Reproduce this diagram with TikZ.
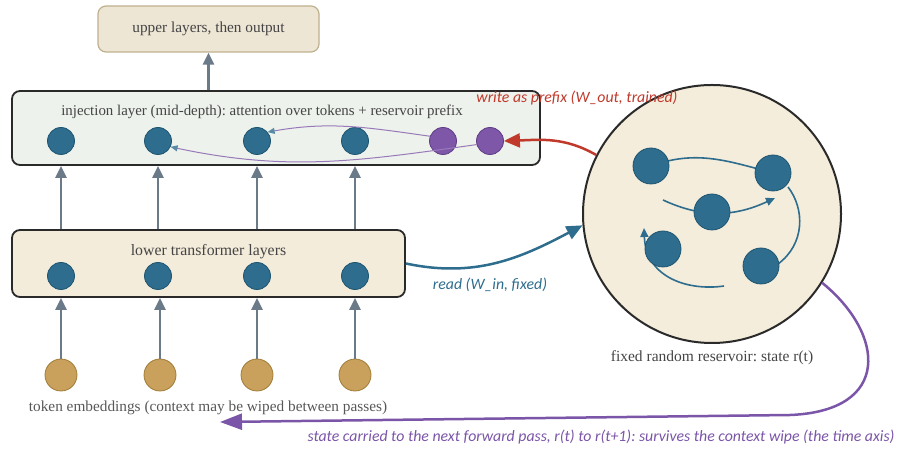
\documentclass[tikz,border=0pt]{standalone}
\usepackage{fontspec}
\setmainfont{Liberation Serif}
\newfontfamily\labfont{Carlito}
\usetikzlibrary{arrows.meta}
\frenchspacing
\definecolor{tokblue}{HTML}{2E6D8E}
\definecolor{tokblueD}{HTML}{1D5470}
\definecolor{prefpurp}{HTML}{7E57A8}
\definecolor{prefpurpD}{HTML}{5E3C85}
\definecolor{embgold}{HTML}{C9A05C}
\definecolor{embgoldD}{HTML}{A07C35}
\definecolor{arrgray}{HTML}{6B7A89}
\definecolor{wred}{HTML}{C0392B}
\definecolor{carry}{HTML}{7B55A8}
\definecolor{txtgray}{HTML}{444444}
\definecolor{upfill}{HTML}{EEE6D5}
\definecolor{upline}{HTML}{BFB08E}
\definecolor{injfill}{HTML}{EDF2EC}
\definecolor{lowfill}{HTML}{F4ECDA}
\definecolor{resfill}{HTML}{F5EDDB}
\definecolor{boxline}{HTML}{2A2A2A}
\begin{document}
\begin{tikzpicture}[x=1pt,y=1pt,
  txt/.style={text=txtgray, inner sep=0pt},
  lab/.style={font=\labfont\itshape\fontsize{15.8}{17}\selectfont, inner sep=0pt},
  layerbox/.style={draw=boxline, line width=1.8pt, rounded corners=8pt},
  tok/.style={circle, fill=tokblue, draw=tokblueD, line width=0.8pt, minimum size=27pt, inner sep=0pt},
  pref/.style={circle, fill=prefpurp, draw=prefpurpD, line width=0.8pt, minimum size=27pt, inner sep=0pt},
  emb/.style={circle, fill=embgold, draw=embgoldD, line width=0.8pt, minimum size=32pt, inner sep=0pt},
  rn/.style={circle, fill=tokblue, draw=tokblueD, line width=0.8pt, minimum size=36pt, inner sep=0pt},
  up/.style={draw=arrgray, line width=2.5pt, -{Triangle[length=12pt,width=11pt]}},
  recur/.style={draw=tokblue, line width=1.6pt},
  thinp/.style={draw=prefpurp!80, line width=1pt, -{Triangle[length=7pt,width=6pt,color=tokblue!80]}}
]
\useasboundingbox (0,0) rectangle (899,449);

% upper box
\node[draw=upline, fill=upfill, line width=1.2pt, rounded corners=8pt, minimum width=221pt, minimum height=46pt, txt, font=\fontsize{15.3}{17}\selectfont] (upper) at (208.5,420) {upper layers, then output};

% injection layer
\node[layerbox, fill=injfill, minimum width=528pt, minimum height=74pt] (inj) at (276,321) {};
\node[txt, font=\fontsize{14.9}{17}\selectfont] (injt) at (262,337) {injection layer (mid-depth): attention over tokens + reservoir prefix};
\node[tok] (i1) at (61,308) {};
\node[tok] (i2) at (158,308) {};
\node[tok] (i3) at (257,308) {};
\node[tok] (i4) at (355,308) {};
\node[pref] (p1) at (443,308) {};
\node[pref] (p2) at (490,308) {};
\draw[thinp] (p1.160) to[out=172,in=10] (i3.40);
\draw[thinp] (p2.195) to[out=188,in=-12] (i2.-25);

% lower layer
\node[layerbox, fill=lowfill, minimum width=393pt, minimum height=67pt] (low) at (208.5,185.5) {};
\node[txt, font=\fontsize{15.8}{17}\selectfont] (lowt) at (208.5,197) {lower transformer layers};
\node[tok] (l1) at (61,173) {};
\node[tok] (l2) at (158,173) {};
\node[tok] (l3) at (257,173) {};
\node[tok] (l4) at (355,173) {};

% embeddings
\node[emb] (e1) at (61,74) {};
\node[emb] (e2) at (160,74) {};
\node[emb] (e3) at (257,74) {};
\node[emb] (e4) at (355,74) {};
\node[txt, text=txtgray!90, font=\fontsize{15.3}{17}\selectfont] (embt) at (208,41) {token embeddings (context may be wiped between passes)};

% vertical arrows
\draw[up] (inj.north -| upper.south) -- (upper.south);
\foreach \k in {1,2,3,4}{
  \draw[up] (l\k |- low.north) -- (l\k |- inj.south);
  \draw[draw=arrgray, line width=2.5pt, -{Triangle[length=12pt,width=11pt]}] (e\k.north) -- (e\k |- low.south);
}

% reservoir
\node[circle, draw=boxline, fill=resfill, line width=2pt, minimum size=258pt, inner sep=0pt] (res) at (712,235) {};
\node[txt, font=\fontsize{15.5}{17}\selectfont] (rest) at (712,91) {fixed random reservoir: state r(t)};
\coordinate (c1s) at (663,249);
\coordinate (c1e) at (775,251);
\coordinate (c2s) at (724,163);
\coordinate (c2e) at (644,221);
\draw[recur] (651,283) to[out=20,in=165] (773,276);
\draw[recur, -{Triangle[length=9pt,width=8pt]}] (c1s) to[out=-25,in=-155] (c1e);
\draw[recur] (788,262) .. controls (805,240) and (805,205) .. (778,185);
\draw[recur, -{Triangle[length=9pt,width=8pt]}] (c2s) .. controls (690,158) and (646,170) .. (c2e);
\node[rn] (r1) at (651,283) {};
\node[rn] (r2) at (773,276) {};
\node[rn] (r3) at (712,237) {};
\node[rn] (r4) at (663,200) {};
\node[rn] (r5) at (761,183) {};

% read arrow
\draw[draw=tokblue, line width=2.5pt, -{Triangle[length=16pt,width=14pt]}] (low.east) to[out=-12,in=208] (res.185);
\node[lab, text=tokblue] (readl) at (490,164) {read (W\_in, fixed)};

% write arrow
\draw[draw=wred, line width=2.5pt, -{Triangle[length=16pt,width=14pt]}] (res.153) to[out=150,in=2] (p2.east);
\node[lab, text=wred] (writel) at (577,351) {write as prefix (W\_out, trained)};

% carry arrow
\coordinate (carryend) at (220,27);
\draw[draw=carry, line width=2.5pt, -{Triangle[length=22pt,width=16pt]}] (res.-32) .. controls (885,115) and (892,38) .. (790,34) -- (carryend);
\node[lab, text=carry] (carryl) at (601,12) {state carried to the next forward pass, r(t) to r(t+1): survives the context wipe (the time axis)};
\end{tikzpicture}
\end{document}
